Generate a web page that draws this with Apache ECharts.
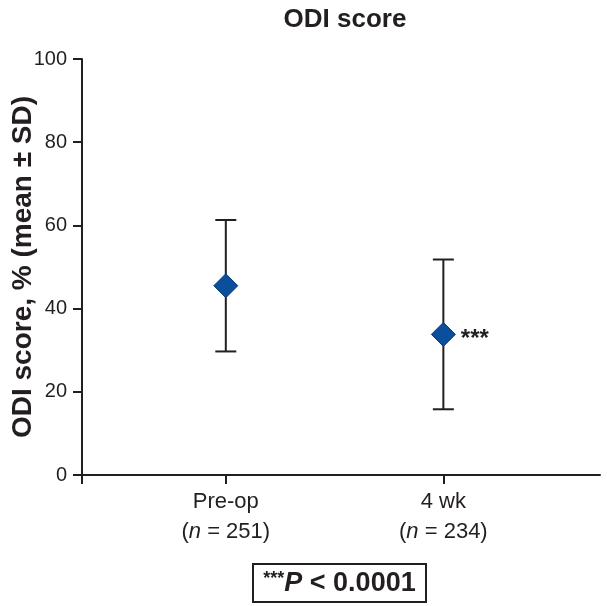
<!DOCTYPE html>
<html><head><meta charset="utf-8">
<script src="https://cdn.jsdelivr.net/npm/echarts@6/dist/echarts.min.js"></script>
<style>html,body{margin:0;padding:0;background:#fff}#c{width:607px;height:606px}</style>
</head><body><div id="c"></div>
<script>
var categories = ['Pre-op', '4 wk'];
var nCounts = [251, 234];
var xPositions = [1, 2];
var means = [45.5, 33.8];
var sds = [15.8, 18.0];
var significance = ['', '***'];
var yTicks = [0, 20, 40, 60, 80, 100];

var FONT = '"Liberation Sans", Arial, Helvetica, sans-serif';
var INK = '#231f20';
var XMIN = 0.339, XMAX = 2.72;

var chart = echarts.init(document.getElementById('c'), null, {renderer: 'canvas'});
var errData = xPositions.map(function (x, i) { return [x, means[i] - sds[i], means[i] + sds[i]]; });
var ptData = xPositions.map(function (x, i) {
  return {value: [x, means[i]], label: {show: !!significance[i], formatter: significance[i]}};
});

chart.setOption({
  animation: false,
  textStyle: {fontFamily: FONT},
  title: {
    text: 'ODI score', left: 340, textAlign: 'center', top: 2,
    textStyle: {fontFamily: FONT, fontSize: 26, fontWeight: 'bold', color: INK}
  },
  grid: {left: 82, right: 7, top: 59, bottom: 131, containLabel: false, outerBoundsMode: 'none'},
  xAxis: {
    type: 'value', min: XMIN, max: XMAX,
    splitLine: {show: false},
    axisLine: {onZero: false, lineStyle: {color: INK, width: 2}},
    axisTick: {show: true, customValues: [XMIN].concat(xPositions), length: 9, lineStyle: {color: INK, width: 2}},
    axisLabel: {
      customValues: xPositions, margin: 12, color: INK, fontSize: 22, fontFamily: FONT,
      lineHeight: 30, align: 'center',
      formatter: function (v) {
        var i = xPositions.indexOf(Math.round(v));
        if (i < 0) return '';
        return categories[i] + '\n(' + '{it|n}' + ' = ' + nCounts[i] + ')';
      },
      rich: {it: {fontStyle: 'italic', fontSize: 22, color: INK, fontFamily: FONT, lineHeight: 30}}
    }
  },
  yAxis: {
    type: 'value', min: 0, max: 100, interval: 20,
    name: 'ODI score, % (mean \u00b1 SD)', nameLocation: 'middle', nameGap: 45, nameMoveOverlap: false,
    nameTextStyle: {fontFamily: FONT, fontSize: 28, fontWeight: 'bold', color: INK},
    splitLine: {show: false},
    axisLine: {show: true, lineStyle: {color: INK, width: 2}},
    axisTick: {show: true, length: 9, lineStyle: {color: INK, width: 2}},
    axisLabel: {margin: 15, color: INK, fontSize: 20, fontFamily: FONT,
      formatter: function (v) { return yTicks.indexOf(v) >= 0 ? String(v) : ''; }}
  },
  series: [
    {
      type: 'custom',
      data: errData,
      renderItem: function (params, api) {
        var x = api.value(0), lo = api.value(1), hi = api.value(2);
        var pLo = api.coord([x, lo]), pHi = api.coord([x, hi]);
        var hw = 10.5;
        var st = {stroke: INK, lineWidth: 2};
        return {type: 'group', children: [
          {type: 'line', shape: {x1: pLo[0], y1: pLo[1], x2: pHi[0], y2: pHi[1]}, style: st},
          {type: 'line', shape: {x1: pLo[0] - hw, y1: pLo[1], x2: pLo[0] + hw, y2: pLo[1]}, style: st},
          {type: 'line', shape: {x1: pHi[0] - hw, y1: pHi[1], x2: pHi[0] + hw, y2: pHi[1]}, style: st}
        ]};
      },
      z: 2
    },
    {
      type: 'scatter',
      data: ptData,
      symbol: 'diamond', symbolSize: [24, 24],
      itemStyle: {color: '#0b4f9c', borderColor: '#073a75', borderWidth: 1, opacity: 1},
      label: {position: 'right', distance: 5, color: INK, fontSize: 24, fontWeight: 'bold', fontFamily: FONT, offset: [0, 5]},
      z: 3
    }
  ],
  graphic: [
    {
      type: 'group', left: 252, top: 563,
      children: [
        {type: 'rect', shape: {x: 0, y: 0, width: 173, height: 38}, style: {fill: '#fff', stroke: INK, lineWidth: 2}},
        {type: 'text', x: 86.5, y: 20, style: {
          text: '{s|***}{p|P}{t| < 0.0001}', align: 'center', verticalAlign: 'middle',
          rich: {
            s: {fontFamily: FONT, fontSize: 18, fontWeight: 'bold', fill: INK, verticalAlign: 'top', padding: [0, 0, 4, 0]},
            p: {fontFamily: FONT, fontSize: 27, fontWeight: 'bold', fontStyle: 'italic', fill: INK},
            t: {fontFamily: FONT, fontSize: 27, fontWeight: 'bold', fill: INK}
          }
        }}
      ]
    }
  ]
});
</script></body></html>
